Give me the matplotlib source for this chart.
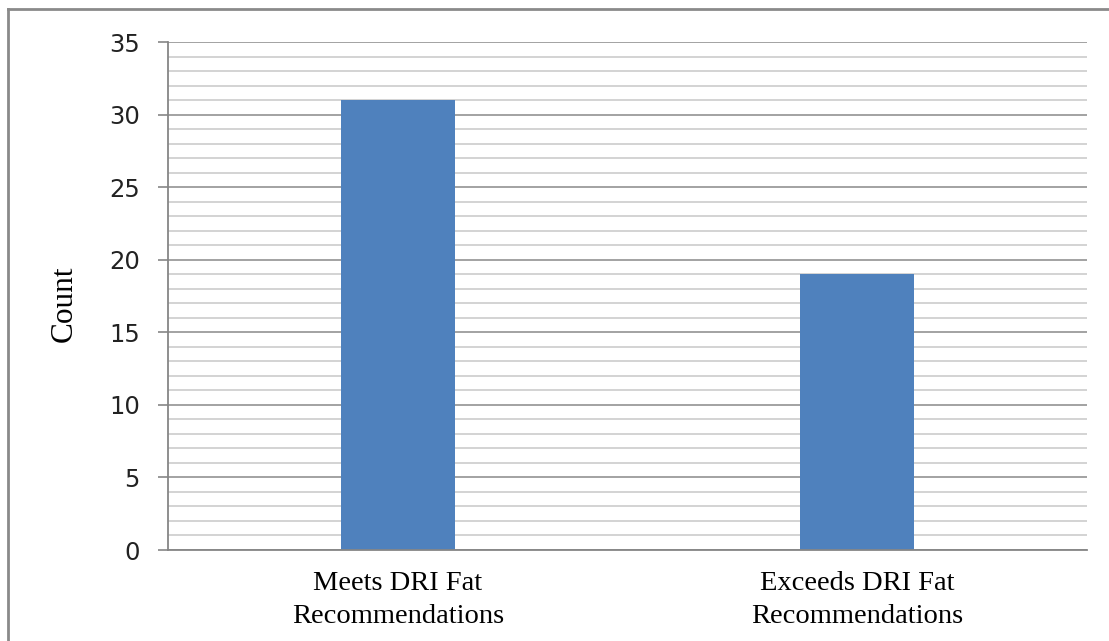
import matplotlib
matplotlib.use("Agg")
import matplotlib.pyplot as plt
from matplotlib.lines import Line2D
import numpy as np

categories = ["Meets DRI Fat\nRecommendations", "Exceeds DRI Fat\nRecommendations"]
counts = [31, 19]
y_major = [0, 5, 10, 15, 20, 25, 30, 35]

W, H = 1109, 641
fig = plt.figure(figsize=(W / 100, H / 100), dpi=100)
fig.patch.set_facecolor("white")

ax = fig.add_axes([168 / W, 1 - 550 / H, (1087 - 168) / W, (550 - 42) / H])

x = np.arange(len(categories))
ax.bar(x, counts, width=0.248, color="#4F81BD", zorder=3)

ax.set_xlim(-0.5, len(categories) - 0.5)
ax.set_ylim(0, 35)

# gridlines: minor every unit, major every 5
ax.set_yticks(y_major)
ax.set_yticks(np.arange(0, 36, 1), minor=True)
ax.grid(axis="y", which="minor", color="#d3d3d3", linewidth=1.4, zorder=0)
ax.grid(axis="y", which="major", color="#a2a2a2", linewidth=1.4, zorder=1)
ax.tick_params(axis="y", which="minor", length=0)
ax.tick_params(axis="y", which="major", direction="out", length=7.2, width=1.2,
               color="#868686", pad=13, labelsize=17.5, labelcolor="#222222")
ax.set_yticklabels([str(v) for v in y_major], family="DejaVu Sans")

ax.set_xticks(x)
ax.set_xticklabels(categories, family="Liberation Serif", fontsize=20.5,
                   linespacing=1.42)
ax.tick_params(axis="x", length=0, pad=15, labelcolor="black")

for side in ("top", "right"):
    ax.spines[side].set_visible(False)
for side in ("left", "bottom"):
    ax.spines[side].set_color("#868686")
    ax.spines[side].set_linewidth(1.3)
    ax.spines[side].set_zorder(4)

ax.set_ylabel("Count", family="Liberation Serif", fontsize=22.5)
ax.yaxis.set_label_coords((79 - 168) / (1087 - 168), 0.485)

# outer frame
fig.add_artist(Line2D([8 / W, 8 / W], [0, 1 - 9 / H], color="#8a8a8a",
                      linewidth=2, transform=fig.transFigure))
fig.add_artist(Line2D([8 / W, 1], [1 - 9 / H, 1 - 9 / H], color="#8a8a8a",
                      linewidth=2, transform=fig.transFigure))

fig.savefig("out.png", dpi=100)
